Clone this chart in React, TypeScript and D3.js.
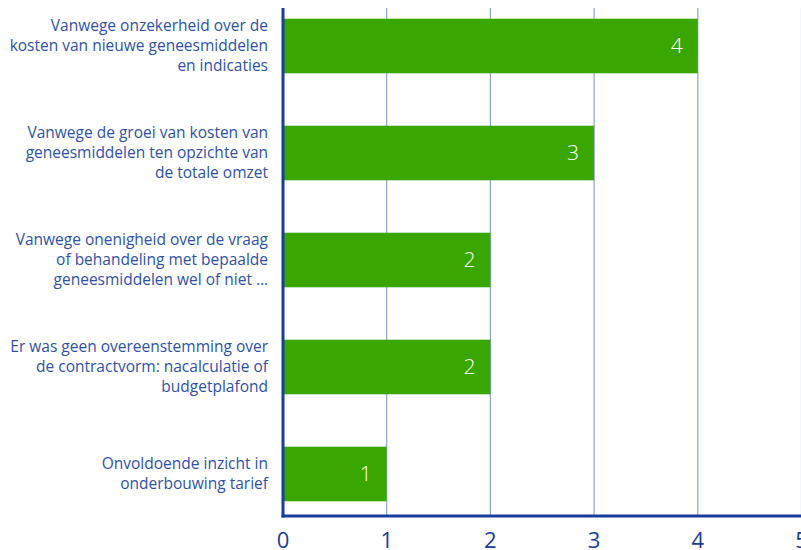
import React, { useEffect, useRef } from "react";
import * as d3 from "d3";

const categories = [
  ["Vanwege onzekerheid over de", "kosten van nieuwe geneesmiddelen", "en indicaties"],
  ["Vanwege de groei van kosten van", "geneesmiddelen ten opzichte van", "de totale omzet"],
  ["Vanwege onenigheid over de vraag", "of behandeling met bepaalde", "geneesmiddelen wel of niet \u2026"],
  ["Er was geen overeenstemming over", "de contractvorm: nacalculatie of", "budgetplafond"],
  ["Onvoldoende inzicht in", "onderbouwing tarief"],
];
const values = [4, 3, 2, 2, 1];
const ticks = [0, 1, 2, 3, 4, 5];

const W = 801;
const H = 550;
const FONT = "'Open Sans', 'DejaVu Sans', sans-serif";

export default function App() {
  const ref = useRef<SVGSVGElement>(null);

  useEffect(() => {
    const svg = d3.select(ref.current);
    svg.selectAll("*").remove();

    const left = 283;
    const right = 801.5;
    const top = 8;
    const bottom = 516;

    const x = d3.scaleLinear().domain([0, 5]).range([left, right]);
    const y = d3
      .scaleBand<number>()
      .domain(d3.range(values.length))
      .range([-7.5, 527.5])
      .paddingInner(0.49)
      .paddingOuter(0.245);

    // gridlines
    svg.append("g")
      .selectAll("line")
      .data(ticks.slice(1))
      .join("line")
      .attr("x1", (d) => x(d))
      .attr("x2", (d) => x(d))
      .attr("y1", top)
      .attr("y2", bottom)
      .attr("stroke", "#8ea3d6")
      .attr("stroke-width", 1.2);

    // bars
    svg.append("g")
      .selectAll("rect")
      .data(values)
      .join("rect")
      .attr("x", x(0))
      .attr("y", (d, i) => y(i)!)
      .attr("width", (d) => x(d) - x(0))
      .attr("height", y.bandwidth())
      .attr("fill", "#3aa600");

    // value labels
    svg.append("g")
      .selectAll("text")
      .data(values)
      .join("text")
      .attr("x", (d) => x(d) - 15)
      .attr("y", (d, i) => y(i)! + y.bandwidth() / 2)
      .attr("dy", "0.35em")
      .attr("text-anchor", "end")
      .attr("fill", "#fff")
      .style("font-family", FONT)
      .style("font-size", "21px")
      .style("font-weight", 300)
      .text((d) => d);

    // axes lines
    svg.append("line")
      .attr("x1", left)
      .attr("x2", left)
      .attr("y1", top)
      .attr("y2", bottom + 1.5)
      .attr("stroke", "#1a3d9c")
      .attr("stroke-width", 3);
    svg.append("line")
      .attr("x1", left - 1.5)
      .attr("x2", W)
      .attr("y1", bottom)
      .attr("y2", bottom)
      .attr("stroke", "#1a3d9c")
      .attr("stroke-width", 3);

    // tick labels
    svg.append("g")
      .selectAll("text")
      .data(ticks)
      .join("text")
      .attr("x", (d) => x(d))
      .attr("y", 548)
      .attr("text-anchor", "middle")
      .attr("fill", "#1a3d9c")
      .style("font-family", FONT)
      .style("font-size", "22px")
      .text((d) => d);

    // category labels
    const lab = svg.append("g")
      .selectAll("text")
      .data(categories)
      .join("text")
      .attr("text-anchor", "end")
      .attr("fill", "#2f52a8")
      .style("font-family", FONT)
      .style("font-size", "15.5px")
      .attr("y", (d, i) => y(i)! + y.bandwidth() / 2 - ((d.length - 1) * 20) / 2);
    lab.selectAll("tspan")
      .data((d) => d)
      .join("tspan")
      .attr("x", 268)
      .attr("dy", (d, i) => (i === 0 ? "0.35em" : "20"))
      .text((d) => d);
  }, []);

  return (
    <svg
      ref={ref}
      width={W}
      height={H}
      style={{ position: "absolute", left: 0, top: 0, background: "#fff" }}
    />
  );
}
